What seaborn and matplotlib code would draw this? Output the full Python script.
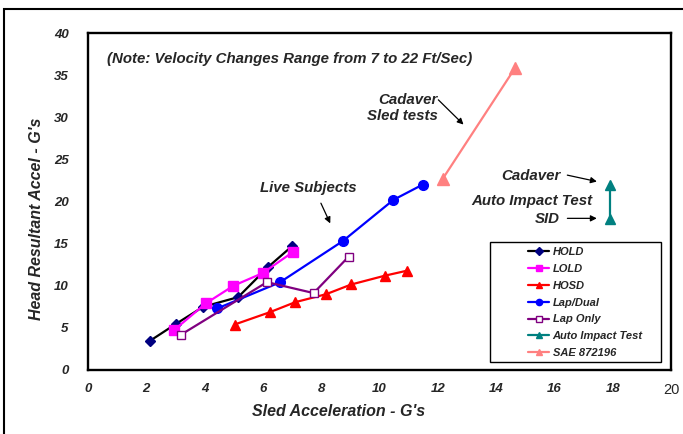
import matplotlib
matplotlib.use("Agg")
import matplotlib.pyplot as plt
import matplotlib.patches as mpatches
import numpy as np
import pandas as pd
import seaborn as sns

sns.set_style("white")
plt.rcParams['font.family'] = ['Liberation Sans', 'DejaVu Sans']

# data (sled accel G's, head resultant accel G's)
hold_x = [2.12, 3.03, 3.95, 5.15, 6.17, 7.0]
hold_y = [3.45, 5.5, 7.5, 8.65, 12.2, 14.7]
lold_x = [2.96, 4.04, 4.99, 5.99, 7.03]
lold_y = [4.76, 7.9, 10.0, 11.5, 14.0]
hosd_x = [5.03, 6.23, 7.11, 8.17, 9.03, 10.19, 10.96]
hosd_y = [5.4, 6.85, 8.05, 9.0, 10.15, 11.2, 11.8]
lapdual_x = [4.43, 6.58, 8.74, 10.48, 11.48]
lapdual_y = [7.3, 10.4, 15.3, 20.2, 22.0]
laponly_x = [3.18, 6.14, 7.74, 8.94]
laponly_y = [4.17, 10.43, 9.13, 13.45]
auto_x = [17.9, 17.9]
auto_y = [22.0, 17.9]
sae_x = [12.17, 14.66]
sae_y = [22.7, 35.9]

series = [
    ("HOLD", hold_x, hold_y, "black", "D", "#000080", "#000080", 5.5),
    ("LOLD", lold_x, lold_y, "#FF00FF", "s", "#FF00FF", "#FF00FF", 6.5),
    ("HOSD", hosd_x, hosd_y, "#FF0000", "^", "#FF0000", "#FF0000", 7),
    ("Lap/Dual", lapdual_x, lapdual_y, "#0000FF", "o", "#0000FF", "#0000FF", 7),
    ("Lap Only", laponly_x, laponly_y, "#800080", "s", "white", "#800080", 6),
    ("Auto Impact Test", auto_x, auto_y, "#008080", "^", "#008080", "#008080", 7),
    ("SAE 872196", sae_x, sae_y, "#FF8080", "^", "#FF8080", "#FF8080", 8),
]

fig = plt.figure(figsize=(6.83, 4.34), dpi=100)
ax = fig.add_axes([88 / 683, 1 - 370 / 434, 583 / 683, 337 / 434])

for name, xs, ys, lc, mk, mfc, mec, ms in series:
    df = pd.DataFrame({"x": xs, "y": ys})
    sns.lineplot(data=df, x="x", y="y", ax=ax, sort=False, estimator=None,
                 color=lc, lw=1.6, marker=mk, markersize=ms,
                 markerfacecolor=mfc, markeredgecolor=mec, markeredgewidth=1.0,
                 label=name)

ax.set_xlim(0, 20)
ax.set_ylim(0, 40)
ax.set_xticks(np.arange(0, 21, 2))
ax.set_yticks(np.arange(0, 41, 5))
ax.tick_params(axis='both', direction='out', length=3, width=1, color='black')
ax.tick_params(axis='y', pad=11)
ax.tick_params(axis='x', pad=6)
for lab in ax.get_xticklabels() + ax.get_yticklabels():
    lab.set_fontsize(9.5)
    lab.set_fontweight('bold')
    lab.set_fontstyle('italic')
last = ax.get_xticklabels()[-1]
last.set_fontweight('normal')
last.set_fontstyle('normal')
last.set_fontsize(10.5)

for sp in ax.spines.values():
    sp.set_visible(True)
    sp.set_color('black')
    sp.set_linewidth(1.7)

ax.set_xlabel("Sled Acceleration - G's", fontsize=11.5, fontweight='bold', fontstyle='italic')
ax.set_ylabel("Head Resultant Accel - G's", fontsize=11.5, fontweight='bold', fontstyle='italic')
ax.xaxis.set_label_coords(0.43, -0.1)
ax.yaxis.set_label_coords(-0.076, 0.45)

txt = dict(fontsize=10.8, fontweight='bold', fontstyle='italic')
ax.text(0.65, 36.9, "(Note: Velocity Changes Range from 7 to 22 Ft/Sec)", va='center', ha='left', **txt)
ax.text(12.0, 31.1, "Cadaver\nSled tests", ha='right', va='center', linespacing=1.15, **txt)
ax.text(5.9, 21.6, "Live Subjects", ha='left', va='center', **txt)
ax.text(16.2, 23.0, "Cadaver", ha='right', va='center', **txt)
ax.text(17.3, 20.0, "Auto Impact Test", ha='right', va='center', **txt)
ax.text(16.2, 17.9, "SID", ha='right', va='center', **txt)

arr = dict(arrowstyle='-|>', color='black', lw=0.9, mutation_scale=9)
ax.annotate("", xy=(12.95, 28.9), xytext=(11.95, 32.3), arrowprops=arr)
ax.annotate("", xy=(8.35, 17.1), xytext=(7.95, 20.1), arrowprops=arr)
ax.annotate("", xy=(17.55, 22.3), xytext=(16.35, 23.2), arrowprops=arr)
ax.annotate("", xy=(17.55, 18.0), xytext=(16.35, 18.0), arrowprops=arr)

# legend with its own square frame
leg = ax.legend(loc='upper left', bbox_to_anchor=(0.738, 0.395), frameon=False,
                prop=dict(size=8, weight='bold', style='italic'),
                handlelength=1.9, handletextpad=0.3, labelspacing=0.62)
for h in leg.legend_handles:
    h.set_markersize(4.5)
ax.add_patch(mpatches.Rectangle(((490 - 88) / 583, (370 - 362) / 337),
                                (661 - 490) / 583, (362 - 242) / 337,
                                transform=ax.transAxes, fill=False, ec='black', lw=1.0,
                                zorder=5))

# outer chart-area border
fig.patches.append(mpatches.Rectangle((4 / 683, -0.1), 1.2, 1.1 - 9 / 434,
                                      transform=fig.transFigure, fill=False,
                                      ec='black', lw=1.5))

fig.savefig("out.png", dpi=100)
